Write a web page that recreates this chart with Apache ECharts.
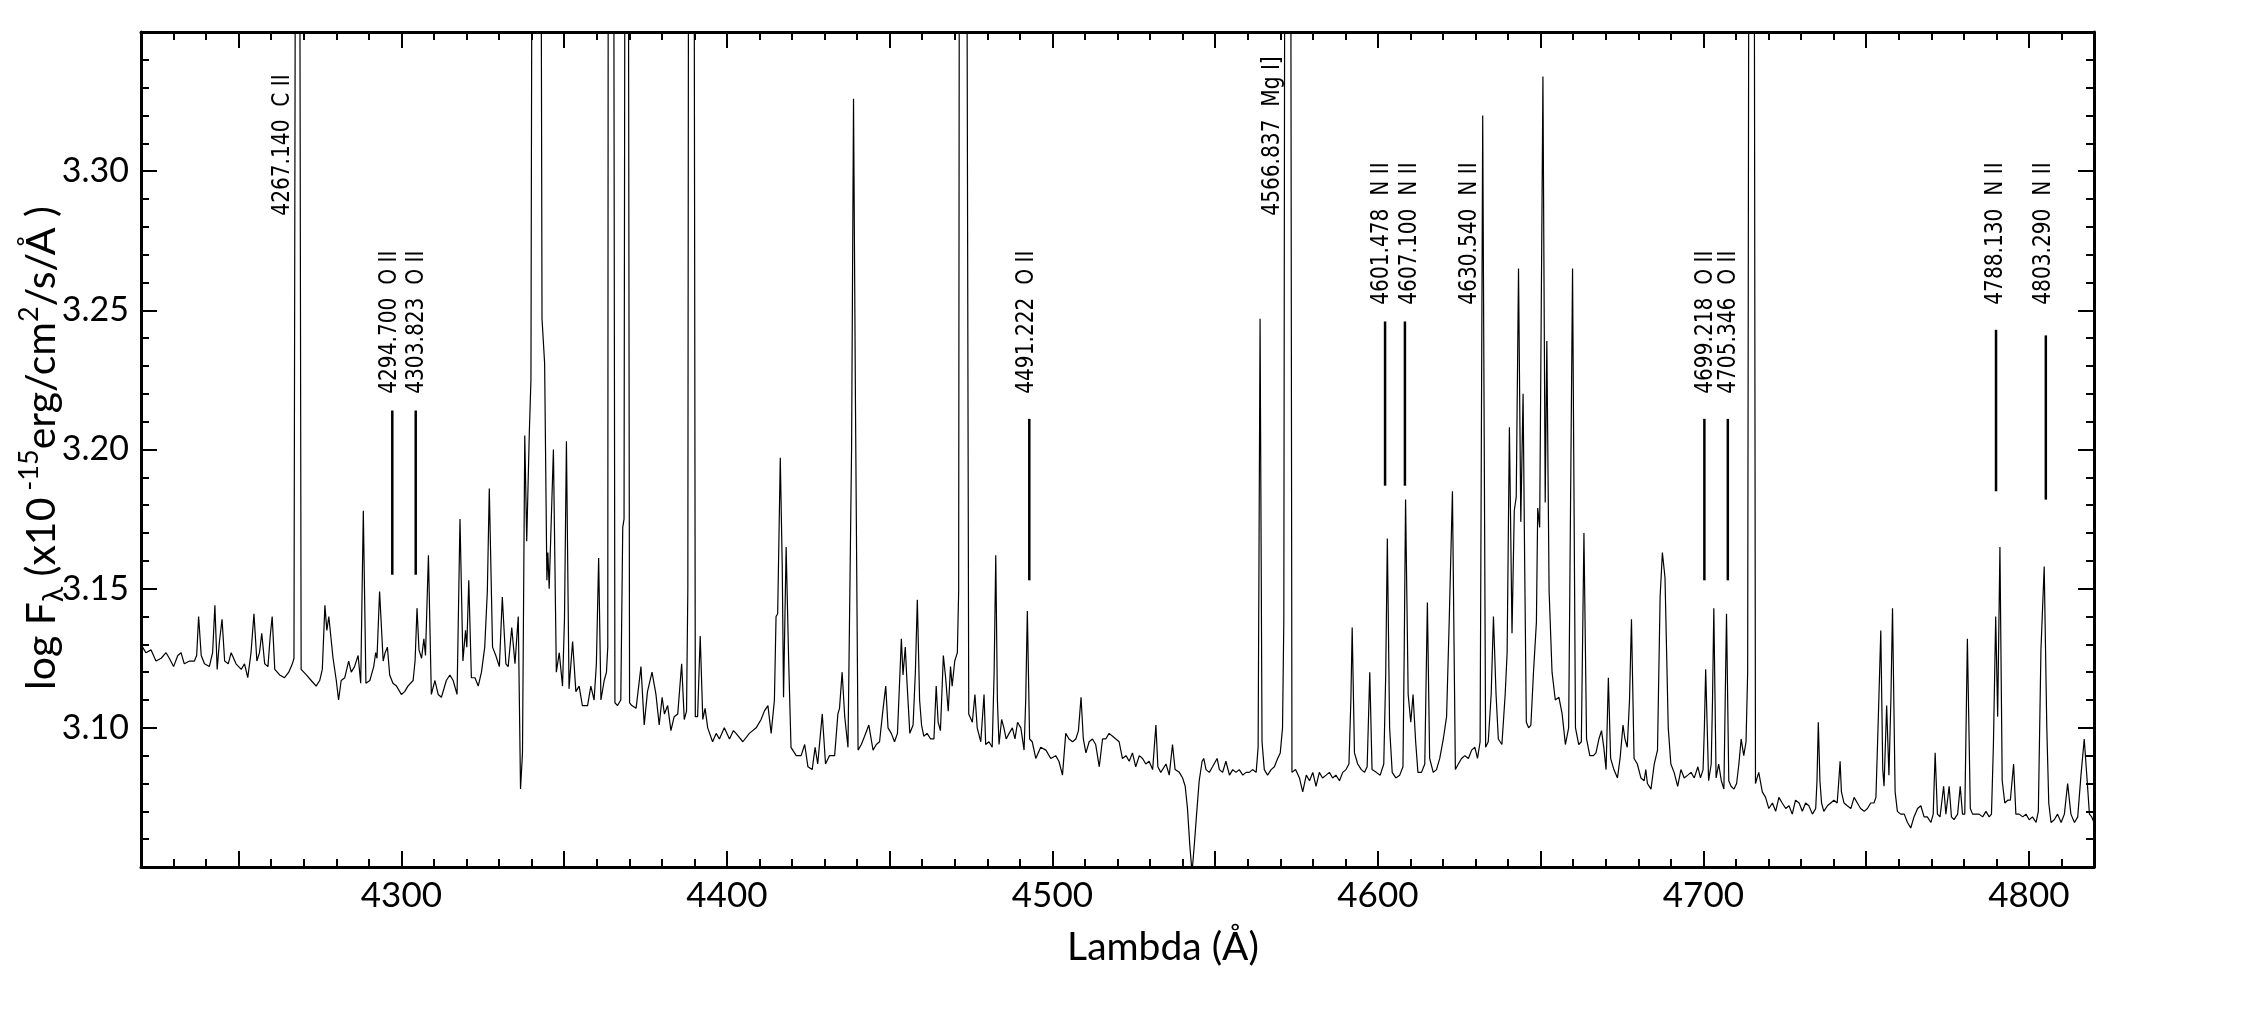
<!DOCTYPE html>
<html>
<head>
<meta charset="utf-8">
<title>Spectrum 4220-4820 A</title>
<script src="https://cdn.jsdelivr.net/npm/echarts@6/dist/echarts.min.js"></script>
<style>
  html, body { margin: 0; padding: 0; background: #fff; }
  #chart { width: 2242px; height: 1011px; }
</style>
</head>
<body>
<div id="chart"></div>
<script>
// axis ranges
var X_MIN = 4220, X_MAX = 4820;
var Y_MIN = 3.05, Y_MAX = 3.35;

// ticks
var xMajorTicks = [4250, 4300, 4350, 4400, 4450, 4500, 4550, 4600, 4650, 4700, 4750, 4800];
var xMinorTicks = [4230, 4240, 4260, 4270, 4280, 4290, 4310, 4320, 4330, 4340, 4360, 4370, 4380, 4390,
  4410, 4420, 4430, 4440, 4460, 4470, 4480, 4490, 4510, 4520, 4530, 4540, 4560, 4570, 4580, 4590,
  4610, 4620, 4630, 4640, 4660, 4670, 4680, 4690, 4710, 4720, 4730, 4740, 4760, 4770, 4780, 4790, 4810];
var xTickLabels = [4300, 4400, 4500, 4600, 4700, 4800];
var yMajorTicks = [3.10, 3.15, 3.20, 3.25, 3.30];
var yMinorTicks = [3.06, 3.07, 3.08, 3.09, 3.11, 3.12, 3.13, 3.14, 3.16, 3.17, 3.18, 3.19,
  3.21, 3.22, 3.23, 3.24, 3.26, 3.27, 3.28, 3.29, 3.31, 3.32, 3.33, 3.34];
var yTickLabels = [3.10, 3.15, 3.20, 3.25, 3.30];

// spectrum [lambda, log F] (peaks past the top are clipped)
var spectrum = [
  [4220.0,3.130],[4221.5,3.127],[4223.1,3.128],[4224.6,3.124],[4226.2,3.125],[4227.7,3.127],[4228.7,3.125],
  [4230.0,3.122],[4231.3,3.126],[4232.3,3.127],[4233.3,3.123],[4234.9,3.124],[4236.4,3.124],[4237.1,3.126],
  [4237.7,3.140],[4238.5,3.126],[4239.5,3.123],[4241.0,3.122],[4242.0,3.127],[4242.7,3.144],[4243.4,3.121],
  [4244.1,3.131],[4244.9,3.139],[4245.7,3.124],[4246.8,3.123],[4247.7,3.127],[4249.2,3.123],[4250.8,3.121],
  [4251.8,3.123],[4252.8,3.118],[4253.8,3.127],[4254.7,3.141],[4255.6,3.124],[4256.4,3.127],[4257.1,3.134],
  [4258.0,3.123],[4259.0,3.122],[4259.7,3.133],[4260.3,3.140],[4261.1,3.121],[4262.6,3.119],[4264.1,3.118],
  [4265.4,3.120],[4266.5,3.123],[4267.0,3.125],[4267.6,3.500],[4268.6,3.500],[4269.2,3.121],[4270.8,3.119],
  [4272.3,3.117],[4273.8,3.115],[4274.9,3.117],[4275.7,3.121],[4276.5,3.144],[4277.1,3.135],[4277.7,3.140],
  [4279.0,3.125],[4280.0,3.117],[4280.7,3.110],[4281.5,3.117],[4282.6,3.118],[4283.8,3.124],[4284.6,3.120],
  [4285.6,3.122],[4286.7,3.126],[4287.5,3.116],[4288.3,3.178],[4289.1,3.116],[4290.3,3.117],[4291.5,3.122],
  [4292.1,3.127],[4292.5,3.125],[4293.3,3.149],[4294.4,3.124],[4295.0,3.127],[4295.7,3.129],[4296.4,3.119],
  [4297.4,3.116],[4298.5,3.115],[4300.0,3.112],[4301.0,3.113],[4302.0,3.115],[4303.6,3.117],[4304.2,3.124],
  [4304.8,3.143],[4305.4,3.128],[4306.2,3.125],[4306.9,3.132],[4307.4,3.126],[4308.3,3.162],[4309.2,3.112],
  [4310.3,3.117],[4311.3,3.112],[4312.3,3.111],[4313.8,3.117],[4314.9,3.119],[4315.9,3.117],[4317.1,3.112],
  [4318.0,3.175],[4318.9,3.124],[4319.7,3.135],[4320.1,3.129],[4320.7,3.153],[4321.5,3.118],[4322.6,3.118],
  [4323.6,3.115],[4324.6,3.120],[4325.6,3.129],[4326.4,3.149],[4327.0,3.186],[4328.0,3.129],[4329.0,3.126],
  [4330.1,3.122],[4331.0,3.147],[4332.1,3.123],[4332.8,3.122],[4333.9,3.136],[4334.9,3.123],[4335.9,3.140],
  [4336.6,3.078],[4337.2,3.091],[4337.9,3.205],[4338.5,3.167],[4339.3,3.206],[4339.8,3.225],[4340.3,3.500],
  [4342.7,3.500],[4343.2,3.247],[4344.0,3.231],[4344.7,3.153],[4345.0,3.163],[4345.4,3.150],[4345.9,3.150],
  [4346.7,3.200],[4347.6,3.120],[4348.5,3.127],[4349.5,3.115],[4350.1,3.139],[4350.7,3.203],[4351.5,3.114],
  [4352.6,3.131],[4353.6,3.113],[4354.6,3.115],[4355.6,3.108],[4357.2,3.108],[4358.2,3.115],[4359.2,3.110],
  [4359.9,3.123],[4360.6,3.161],[4361.3,3.110],[4362.3,3.117],[4363.0,3.120],[4363.4,3.129],[4363.6,3.500],
  [4365.1,3.500],[4365.6,3.109],[4366.4,3.108],[4367.4,3.110],[4368.0,3.172],[4368.4,3.175],[4368.8,3.500],
  [4369.6,3.500],[4370.1,3.109],[4370.8,3.108],[4372.1,3.107],[4373.6,3.122],[4374.6,3.101],[4375.6,3.113],
  [4377.0,3.120],[4378.2,3.112],[4379.2,3.101],[4380.1,3.111],[4380.8,3.105],[4381.8,3.108],[4382.8,3.099],
  [4383.8,3.104],[4384.9,3.105],[4386.1,3.123],[4386.9,3.103],[4387.6,3.106],[4388.0,3.150],[4388.3,3.500],
  [4389.8,3.500],[4390.3,3.104],[4391.0,3.104],[4391.8,3.133],[4392.6,3.103],[4393.3,3.107],[4394.1,3.100],
  [4395.6,3.095],[4396.7,3.098],[4397.7,3.096],[4399.2,3.100],[4400.8,3.096],[4402.0,3.099],[4402.8,3.098],
  [4404.9,3.095],[4406.9,3.098],[4409.0,3.100],[4410.5,3.103],[4411.5,3.106],[4412.6,3.108],[4413.6,3.098],
  [4414.6,3.110],[4415.1,3.140],[4415.6,3.141],[4416.4,3.197],[4417.0,3.158],[4417.4,3.111],[4418.2,3.165],
  [4419.0,3.123],[4419.7,3.093],[4421.3,3.090],[4422.8,3.090],[4423.9,3.094],[4424.9,3.086],[4426.2,3.085],
  [4427.1,3.093],[4427.9,3.087],[4429.3,3.105],[4430.3,3.087],[4431.5,3.090],[4433.1,3.090],[4434.1,3.105],
  [4434.6,3.107],[4435.4,3.120],[4436.2,3.104],[4437.2,3.093],[4438.3,3.200],[4438.9,3.326],[4439.5,3.216],
  [4440.3,3.092],[4441.3,3.094],[4442.3,3.097],[4443.6,3.101],[4444.9,3.092],[4445.9,3.094],[4446.9,3.095],
  [4447.9,3.106],[4448.8,3.115],[4449.5,3.100],[4450.5,3.098],[4451.5,3.095],[4452.4,3.098],[4453.6,3.132],
  [4454.1,3.119],[4454.8,3.129],[4455.3,3.117],[4456.2,3.098],[4457.2,3.101],[4457.9,3.120],[4458.5,3.146],
  [4459.2,3.110],[4459.8,3.101],[4460.5,3.097],[4461.5,3.098],[4462.6,3.096],[4463.6,3.096],[4464.3,3.115],
  [4464.9,3.102],[4465.6,3.099],[4466.5,3.126],[4467.2,3.118],[4468.0,3.106],[4468.7,3.122],[4469.2,3.115],
  [4470.0,3.124],[4470.8,3.127],[4471.2,3.149],[4471.5,3.500],[4473.5,3.500],[4474.3,3.105],[4475.4,3.102],
  [4476.2,3.112],[4476.9,3.100],[4478.0,3.095],[4479.0,3.112],[4479.5,3.094],[4480.5,3.095],[4481.5,3.093],
  [4482.1,3.120],[4482.6,3.162],[4483.1,3.110],[4483.6,3.094],[4484.4,3.103],[4485.1,3.100],[4485.8,3.096],
  [4486.7,3.098],[4487.7,3.100],[4488.5,3.096],[4489.3,3.102],[4490.3,3.100],[4491.3,3.092],[4491.8,3.110],
  [4492.3,3.142],[4493.0,3.096],[4493.8,3.095],[4494.9,3.089],[4496.4,3.093],[4498.0,3.092],[4499.5,3.089],
  [4501.0,3.090],[4502.0,3.088],[4503.1,3.083],[4504.1,3.098],[4505.1,3.096],[4506.2,3.095],[4507.2,3.096],
  [4508.0,3.099],[4508.8,3.111],[4509.5,3.096],[4510.3,3.091],[4511.3,3.095],[4512.3,3.096],[4513.3,3.094],
  [4514.4,3.086],[4515.4,3.096],[4516.4,3.096],[4517.4,3.098],[4518.5,3.097],[4519.5,3.096],[4520.5,3.095],
  [4521.5,3.089],[4522.6,3.090],[4523.6,3.088],[4524.6,3.091],[4525.6,3.086],[4526.7,3.090],[4527.7,3.089],
  [4528.7,3.087],[4529.7,3.088],[4530.8,3.085],[4531.8,3.101],[4532.4,3.086],[4533.3,3.084],[4534.9,3.087],
  [4535.9,3.083],[4536.9,3.094],[4537.7,3.085],[4539.0,3.084],[4540.0,3.082],[4540.8,3.079],[4541.5,3.071],
  [4542.2,3.058],[4542.9,3.048],[4543.6,3.058],[4544.3,3.069],[4545.1,3.081],[4546.0,3.088],[4546.5,3.089],
  [4547.2,3.085],[4548.2,3.084],[4549.2,3.086],[4550.6,3.089],[4551.3,3.085],[4552.3,3.084],[4553.3,3.088],
  [4554.4,3.083],[4555.4,3.085],[4556.4,3.084],[4557.4,3.085],[4558.5,3.083],[4559.5,3.084],[4560.5,3.084],
  [4561.5,3.085],[4562.6,3.084],[4563.2,3.093],[4563.8,3.247],[4564.4,3.095],[4565.1,3.085],[4566.1,3.083],
  [4567.2,3.085],[4568.2,3.086],[4569.2,3.089],[4570.0,3.091],[4570.7,3.100],[4571.1,3.139],[4571.5,3.500],
  [4573.1,3.500],[4573.6,3.084],[4574.7,3.085],[4575.9,3.082],[4576.9,3.077],[4578.0,3.083],[4579.0,3.081],
  [4580.0,3.084],[4581.0,3.079],[4582.0,3.084],[4583.0,3.082],[4584.1,3.083],[4585.1,3.084],[4586.1,3.082],
  [4587.1,3.083],[4588.2,3.081],[4589.2,3.084],[4590.2,3.085],[4591.1,3.087],[4591.7,3.110],[4592.1,3.136],
  [4592.8,3.091],[4593.8,3.087],[4594.9,3.085],[4595.9,3.084],[4596.7,3.086],[4597.5,3.120],[4598.2,3.085],
  [4599.5,3.084],[4600.7,3.083],[4601.8,3.087],[4602.4,3.119],[4602.9,3.168],[4603.6,3.100],[4604.4,3.084],
  [4605.5,3.082],[4606.7,3.083],[4607.7,3.086],[4608.1,3.129],[4608.5,3.182],[4609.3,3.112],[4610.1,3.102],
  [4610.8,3.112],[4611.6,3.095],[4612.3,3.084],[4613.4,3.084],[4614.4,3.087],[4615.2,3.145],[4615.9,3.089],
  [4617.0,3.084],[4618.0,3.085],[4619.0,3.089],[4620.1,3.096],[4621.1,3.104],[4621.9,3.138],[4622.9,3.185],
  [4623.8,3.085],[4624.7,3.087],[4625.7,3.089],[4626.7,3.090],[4627.8,3.089],[4628.8,3.092],[4629.8,3.093],
  [4630.6,3.089],[4631.4,3.095],[4632.2,3.320],[4633.1,3.093],[4633.9,3.095],[4634.8,3.112],[4635.5,3.140],
  [4636.3,3.112],[4637.0,3.096],[4638.1,3.094],[4639.1,3.112],[4639.7,3.127],[4640.4,3.208],[4641.2,3.134],
  [4641.9,3.178],[4642.5,3.183],[4643.2,3.265],[4643.9,3.174],[4644.6,3.220],[4645.1,3.158],[4645.6,3.102],
  [4646.3,3.100],[4647.0,3.101],[4647.8,3.120],[4648.7,3.138],[4649.1,3.179],[4649.7,3.172],[4650.7,3.334],
  [4651.4,3.181],[4651.9,3.239],[4652.6,3.149],[4653.5,3.120],[4654.5,3.110],[4655.6,3.111],[4656.6,3.105],
  [4657.6,3.094],[4658.6,3.100],[4659.8,3.265],[4660.7,3.100],[4661.7,3.094],[4662.5,3.095],[4663.3,3.170],
  [4664.1,3.096],[4665.1,3.090],[4666.2,3.090],[4667.0,3.091],[4667.9,3.096],[4668.7,3.099],[4669.4,3.093],
  [4670.1,3.085],[4670.8,3.118],[4671.5,3.089],[4672.5,3.085],[4673.6,3.082],[4674.4,3.089],[4675.3,3.101],
  [4675.9,3.096],[4676.6,3.093],[4677.3,3.110],[4677.9,3.139],[4678.7,3.089],[4679.7,3.087],[4680.8,3.082],
  [4681.8,3.081],[4682.3,3.085],[4682.8,3.080],[4683.9,3.078],[4684.9,3.087],[4685.9,3.092],[4686.7,3.147],
  [4687.4,3.163],[4688.2,3.154],[4689.2,3.100],[4690.0,3.087],[4691.0,3.084],[4692.1,3.079],[4693.1,3.085],
  [4694.1,3.082],[4695.2,3.083],[4696.2,3.084],[4697.2,3.082],[4698.3,3.086],[4699.1,3.082],[4699.9,3.085],
  [4700.3,3.100],[4700.7,3.121],[4701.6,3.081],[4702.4,3.087],[4702.8,3.110],[4703.2,3.143],[4703.9,3.082],
  [4704.7,3.087],[4705.5,3.081],[4706.3,3.078],[4706.7,3.110],[4707.1,3.141],[4707.8,3.081],[4708.5,3.079],
  [4709.4,3.078],[4710.2,3.080],[4710.9,3.087],[4711.6,3.096],[4712.4,3.090],[4713.1,3.095],[4713.6,3.120],
  [4714.1,3.500],[4715.5,3.500],[4716.0,3.080],[4716.5,3.082],[4717.0,3.084],[4718.1,3.077],[4719.1,3.075],
  [4720.1,3.071],[4721.2,3.073],[4722.2,3.070],[4723.2,3.075],[4724.2,3.073],[4725.3,3.071],[4726.3,3.072],
  [4727.3,3.069],[4728.3,3.074],[4729.4,3.073],[4730.4,3.070],[4731.4,3.073],[4732.4,3.072],[4733.5,3.069],
  [4734.5,3.071],[4734.9,3.081],[4735.3,3.102],[4735.8,3.081],[4736.3,3.073],[4737.0,3.070],[4738.1,3.072],
  [4739.1,3.073],[4740.1,3.074],[4741.1,3.073],[4741.6,3.081],[4742.0,3.088],[4742.4,3.077],[4743.2,3.073],
  [4744.2,3.072],[4745.3,3.071],[4746.3,3.075],[4747.3,3.073],[4748.3,3.071],[4749.4,3.070],[4750.4,3.071],
  [4751.4,3.073],[4752.4,3.073],[4753.0,3.075],[4753.7,3.102],[4754.5,3.135],[4755.1,3.085],[4755.5,3.079],
  [4756.3,3.108],[4757.0,3.083],[4757.6,3.110],[4758.1,3.143],[4758.9,3.077],[4759.6,3.070],[4760.6,3.069],
  [4761.7,3.069],[4762.7,3.066],[4763.7,3.064],[4764.7,3.068],[4765.8,3.071],[4766.8,3.072],[4767.8,3.068],
  [4768.8,3.068],[4769.9,3.066],[4770.6,3.069],[4771.2,3.091],[4771.9,3.069],[4772.7,3.068],[4773.8,3.079],
  [4774.5,3.069],[4775.5,3.079],[4776.2,3.068],[4777.0,3.067],[4778.1,3.069],[4778.9,3.079],[4779.6,3.069],
  [4780.3,3.069],[4781.1,3.132],[4782.0,3.071],[4782.7,3.069],[4783.7,3.069],[4784.7,3.069],[4785.8,3.068],
  [4786.8,3.070],[4787.8,3.068],[4788.5,3.069],[4789.1,3.094],[4789.8,3.140],[4790.4,3.104],[4791.1,3.165],
  [4791.8,3.081],[4792.6,3.073],[4793.5,3.074],[4794.3,3.074],[4795.3,3.087],[4796.0,3.069],[4797.0,3.069],
  [4798.1,3.068],[4799.1,3.069],[4800.1,3.067],[4801.1,3.068],[4802.2,3.066],[4802.9,3.070],[4803.7,3.128],
  [4804.7,3.158],[4805.5,3.100],[4806.1,3.073],[4806.8,3.066],[4807.8,3.067],[4808.8,3.069],[4809.9,3.066],
  [4810.9,3.069],[4811.9,3.080],[4812.9,3.069],[4814.0,3.066],[4815.0,3.068],[4816.0,3.083],[4817.0,3.096],
  [4817.9,3.081],[4818.6,3.069],[4819.3,3.068],[4820.0,3.066]
];

// line identifications
var lineLabels = ['4267.140  C II', '4294.700  O II', '4303.823  O II', '4491.222  O II', '4566.837  Mg I]',
  '4601.478  N II', '4607.100  N II', '4630.540  N II', '4699.218  O II', '4705.346  O II',
  '4788.130  N II', '4803.290  N II'];
var labelX = [4263.6, 4296.4, 4304.6, 4492.1, 4567.8, 4601.3, 4609.7, 4628.1, 4700.6, 4707.8, 4789.9, 4804.7];
var labelBase = [3.284, 3.220, 3.220, 3.220, 3.284, 3.252, 3.252, 3.252, 3.220, 3.220, 3.252, 3.252];

// tick marks under the labels
var markerX = [4297.2, 4304.4, 4492.9, 4602.2, 4608.3, 4700.3, 4707.5, 4789.9, 4805.2];
var markerTop = [3.214, 3.214, 3.211, 3.246, 3.246, 3.211, 3.211, 3.243, 3.241];
var markerBottom = [3.155, 3.155, 3.153, 3.187, 3.187, 3.153, 3.153, 3.185, 3.182];

var AXIS_FONT = 'Lato';

function xAxisDef(position, ticks, len, showLine, labels) {
    return {
        type: 'value', position: position, min: X_MIN, max: X_MAX,
        axisLine: { show: showLine, onZero: false, lineStyle: { color: '#000', width: 3 } },
        axisTick: { show: true, inside: true, length: len, customValues: ticks,
            lineStyle: { color: '#000', width: 2 } },
        axisLabel: labels ? {
            show: true, customValues: labels, margin: 11, color: '#000',
            fontFamily: AXIS_FONT, fontSize: 35,
            formatter: function (v) { return String(v); }
        } : { show: false },
        splitLine: { show: false }
    };
}

function yAxisDef(position, ticks, len, showLine, labels) {
    return {
        type: 'value', position: position, min: Y_MIN, max: Y_MAX,
        axisLine: { show: showLine, onZero: false, lineStyle: { color: '#000', width: 3 } },
        axisTick: { show: true, inside: true, length: len, customValues: ticks,
            lineStyle: { color: '#000', width: 2 } },
        axisLabel: labels ? {
            show: true, customValues: labels, margin: 12, color: '#000',
            fontFamily: AXIS_FONT, fontSize: 34,
            formatter: function (v) { return v.toFixed(2); }
        } : { show: false },
        splitLine: { show: false }
    };
}

var myChart = echarts.init(document.getElementById('chart'), null, { renderer: 'canvas' });

var option = {
    backgroundColor: '#fff',
    animation: false,
    grid: { left: 141, top: 32, width: 1953, height: 835, containLabel: false },
    xAxis: [
        xAxisDef('bottom', xMajorTicks, 16, true, xTickLabels),
        xAxisDef('top', xMajorTicks, 16, true, null),
        xAxisDef('bottom', xMinorTicks, 8, false, null),
        xAxisDef('top', xMinorTicks, 8, false, null)
    ],
    yAxis: [
        yAxisDef('left', yMajorTicks, 16, true, yTickLabels),
        yAxisDef('right', yMajorTicks, 16, true, null),
        yAxisDef('left', yMinorTicks, 8, false, null),
        yAxisDef('right', yMinorTicks, 8, false, null)
    ],
    graphic: [
        {
            type: 'text', x: 42, y: 448, rotation: Math.PI / 2, silent: true,
            style: {
                text: '{a|log F}{sub|λ}{a| (x10}{sup| -15}{a|erg/cm}{sup|2}{a|/s/Å )}',
                align: 'center', verticalAlign: 'middle',
                rich: {
                    a: { fontFamily: AXIS_FONT, fontSize: 41, fill: '#000', lineHeight: 52 },
                    sub: { fontFamily: AXIS_FONT, fontSize: 28, fill: '#000', verticalAlign: 'bottom' },
                    sup: { fontFamily: AXIS_FONT, fontSize: 27, fill: '#000', verticalAlign: 'top' }
                }
            }
        },
        {
            type: 'text', x: 1163, y: 947, silent: true,
            style: {
                text: 'Lambda (Å)', fontFamily: AXIS_FONT, fontSize: 39, fill: '#000',
                align: 'center', verticalAlign: 'middle'
            }
        }
    ],
    series: [
        {
            type: 'line',
            xAxisIndex: 0, yAxisIndex: 0,
            data: spectrum,
            showSymbol: false,
            clip: true,
            silent: true,
            lineStyle: { color: '#000', width: 1.2 }
        },
        {
            type: 'custom',
            xAxisIndex: 0, yAxisIndex: 0,
            silent: true,
            data: markerX.map(function (x, i) { return [x, markerTop[i], markerBottom[i]]; }),
            renderItem: function (params, api) {
                var p1 = api.coord([api.value(0), api.value(1)]);
                var p2 = api.coord([api.value(0), api.value(2)]);
                return {
                    type: 'line',
                    shape: { x1: p1[0], y1: p1[1], x2: p2[0], y2: p2[1] },
                    style: { stroke: '#000', lineWidth: 2.5 }
                };
            }
        },
        {
            type: 'custom',
            xAxisIndex: 0, yAxisIndex: 0,
            silent: true,
            data: labelX.map(function (x, i) { return [x, labelBase[i]]; }),
            renderItem: function (params, api) {
                var p = api.coord([api.value(0), api.value(1)]);
                return {
                    type: 'text', x: p[0], y: p[1], rotation: Math.PI / 2, scaleX: 0.84,
                    style: {
                        text: lineLabels[params.dataIndex],
                        fontFamily: 'DejaVu Sans', fontSize: 24, fill: '#000',
                        align: 'left', verticalAlign: 'middle'
                    }
                };
            }
        }
    ]
};

myChart.setOption(option);

window.addEventListener('resize', function () {
    myChart.resize();
});
</script>
</body>
</html>
